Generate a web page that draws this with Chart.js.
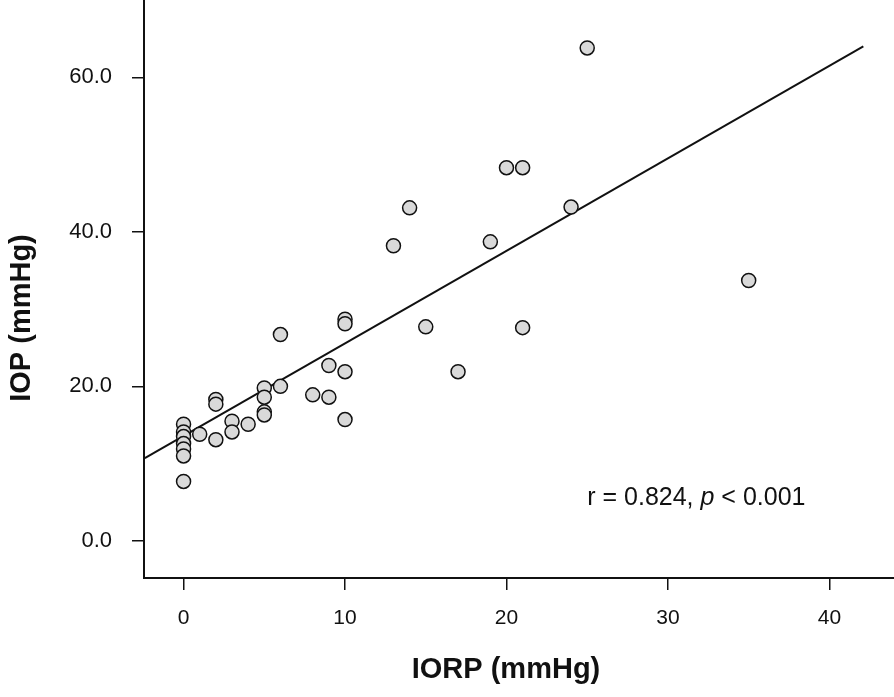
<!DOCTYPE html>
<html>
<head>
<meta charset="utf-8">
<script src="https://cdn.jsdelivr.net/npm/chart.js@4/dist/chart.umd.min.js"></script>
<style>
  html, body { margin: 0; padding: 0; background: #fff; }
  #wrap { width: 894px; height: 697px; position: relative; }
</style>
</head>
<body>
<div id="wrap"><canvas id="c" width="894" height="697"></canvas></div>
<script>
// ---- data ----
const iorpValues = [0,0,0,0,0,0,0,1,2,2,2,3,3,4,5,5,5,5,6,6,8,9,9,10,10,10,10,13,14,15,17,19,20,21,21,24,25,35];
const iopValues  = [15.1,14.1,13.5,12.6,11.9,11.0,7.7,13.8,18.3,17.7,13.1,15.5,14.1,15.1,19.8,18.6,16.7,16.3,26.7,20.0,18.9,22.7,18.6,28.7,28.1,21.9,15.7,38.2,43.1,27.7,21.9,38.7,48.3,48.3,27.6,43.2,63.8,33.7];
const fitLineX = [-2.4, 42.1];
const fitLineY = [10.7, 64.0];
const xTickValues = [0, 10, 20, 30, 40];
const yTickValues = [0, 20, 40, 60];
const xTitle = 'IORP (mmHg)';
const yTitle = 'IOP (mmHg)';
const statText = { pre: 'r = 0.824, ', italic: 'p', post: ' < 0.001' };
const statAnchor = { x: 25.0, y: 5.6 };

const points = iorpValues.map((v, i) => ({ x: v, y: iopValues[i] }));
const fitPoints = fitLineX.map((v, i) => ({ x: v, y: fitLineY[i] }));

const FONT = "'Liberation Sans', Arial, Helvetica, sans-serif";

const textPlugin = {
  id: 'extraText',
  afterDraw(chart) {
    const ctx = chart.ctx;
    const xs = chart.scales.x, ys = chart.scales.y;
    ctx.save();
    ctx.fillStyle = '#111';
    // correlation annotation
    let px = xs.getPixelForValue(statAnchor.x);
    const py = ys.getPixelForValue(statAnchor.y);
    ctx.textBaseline = 'middle';
    ctx.textAlign = 'left';
    ctx.font = `25px ${FONT}`;
    ctx.fillText(statText.pre, px, py);
    px += ctx.measureText(statText.pre).width;
    ctx.font = `italic 25px ${FONT}`;
    ctx.fillText(statText.italic, px, py);
    px += ctx.measureText(statText.italic).width;
    ctx.font = `25px ${FONT}`;
    ctx.fillText(statText.post, px, py);
    // axis titles
    ctx.font = `bold 29px ${FONT}`;
    ctx.textAlign = 'center';
    ctx.fillText(xTitle, 506, 670);
    ctx.translate(22, 318);
    ctx.rotate(-Math.PI / 2);
    ctx.fillText(yTitle, 0, 0);
    ctx.restore();
  }
};

new Chart(document.getElementById('c'), {
  type: 'scatter',
  data: {
    datasets: [
      {
        type: 'line',
        data: fitPoints,
        borderColor: '#111',
        borderWidth: 2,
        pointRadius: 0,
        fill: false,
        order: 2
      },
      {
        type: 'scatter',
        data: points,
        backgroundColor: '#d9d9d9',
        borderColor: '#111',
        borderWidth: 1.5,
        pointRadius: 7,
        order: 1
      }
    ]
  },
  options: {
    responsive: false,
    animation: false,
    devicePixelRatio: 1,
    layout: { padding: 0, autoPadding: false },
    plugins: { legend: { display: false }, tooltip: { enabled: false } },
    scales: {
      x: {
        type: 'linear',
        min: -2.45,
        max: 44,
        afterBuildTicks: s => { s.ticks = xTickValues.map(v => ({ value: v })); },
        afterFit: s => { s.height = 119; s.paddingLeft = 0; s.paddingRight = 0; s.paddingTop = 0; s.paddingBottom = 0; },
        grid: { drawOnChartArea: false, drawTicks: true, tickLength: 12, color: '#111', lineWidth: 1.5 },
        border: { display: true, color: '#111', width: 2 },
        ticks: { color: '#111', font: { family: FONT, size: 21 }, padding: 16, maxRotation: 0, autoSkip: false,
                 callback: v => String(v) },
        title: { display: false }
      },
      y: {
        type: 'linear',
        min: -4.8,
        max: 70,
        afterBuildTicks: s => { s.ticks = yTickValues.map(v => ({ value: v })); },
        afterFit: s => { s.width = 144; s.paddingLeft = 0; s.paddingRight = 0; s.paddingTop = 0; s.paddingBottom = 0; },
        grid: { drawOnChartArea: false, drawTicks: true, tickLength: 12, color: '#111', lineWidth: 1.5 },
        border: { display: true, color: '#111', width: 2 },
        ticks: { color: '#111', font: { family: FONT, size: 22 }, padding: 20, autoSkip: false,
                 callback: v => Number(v).toFixed(1) },
        title: { display: false }
      }
    }
  },
  plugins: [textPlugin]
});
</script>
</body>
</html>
